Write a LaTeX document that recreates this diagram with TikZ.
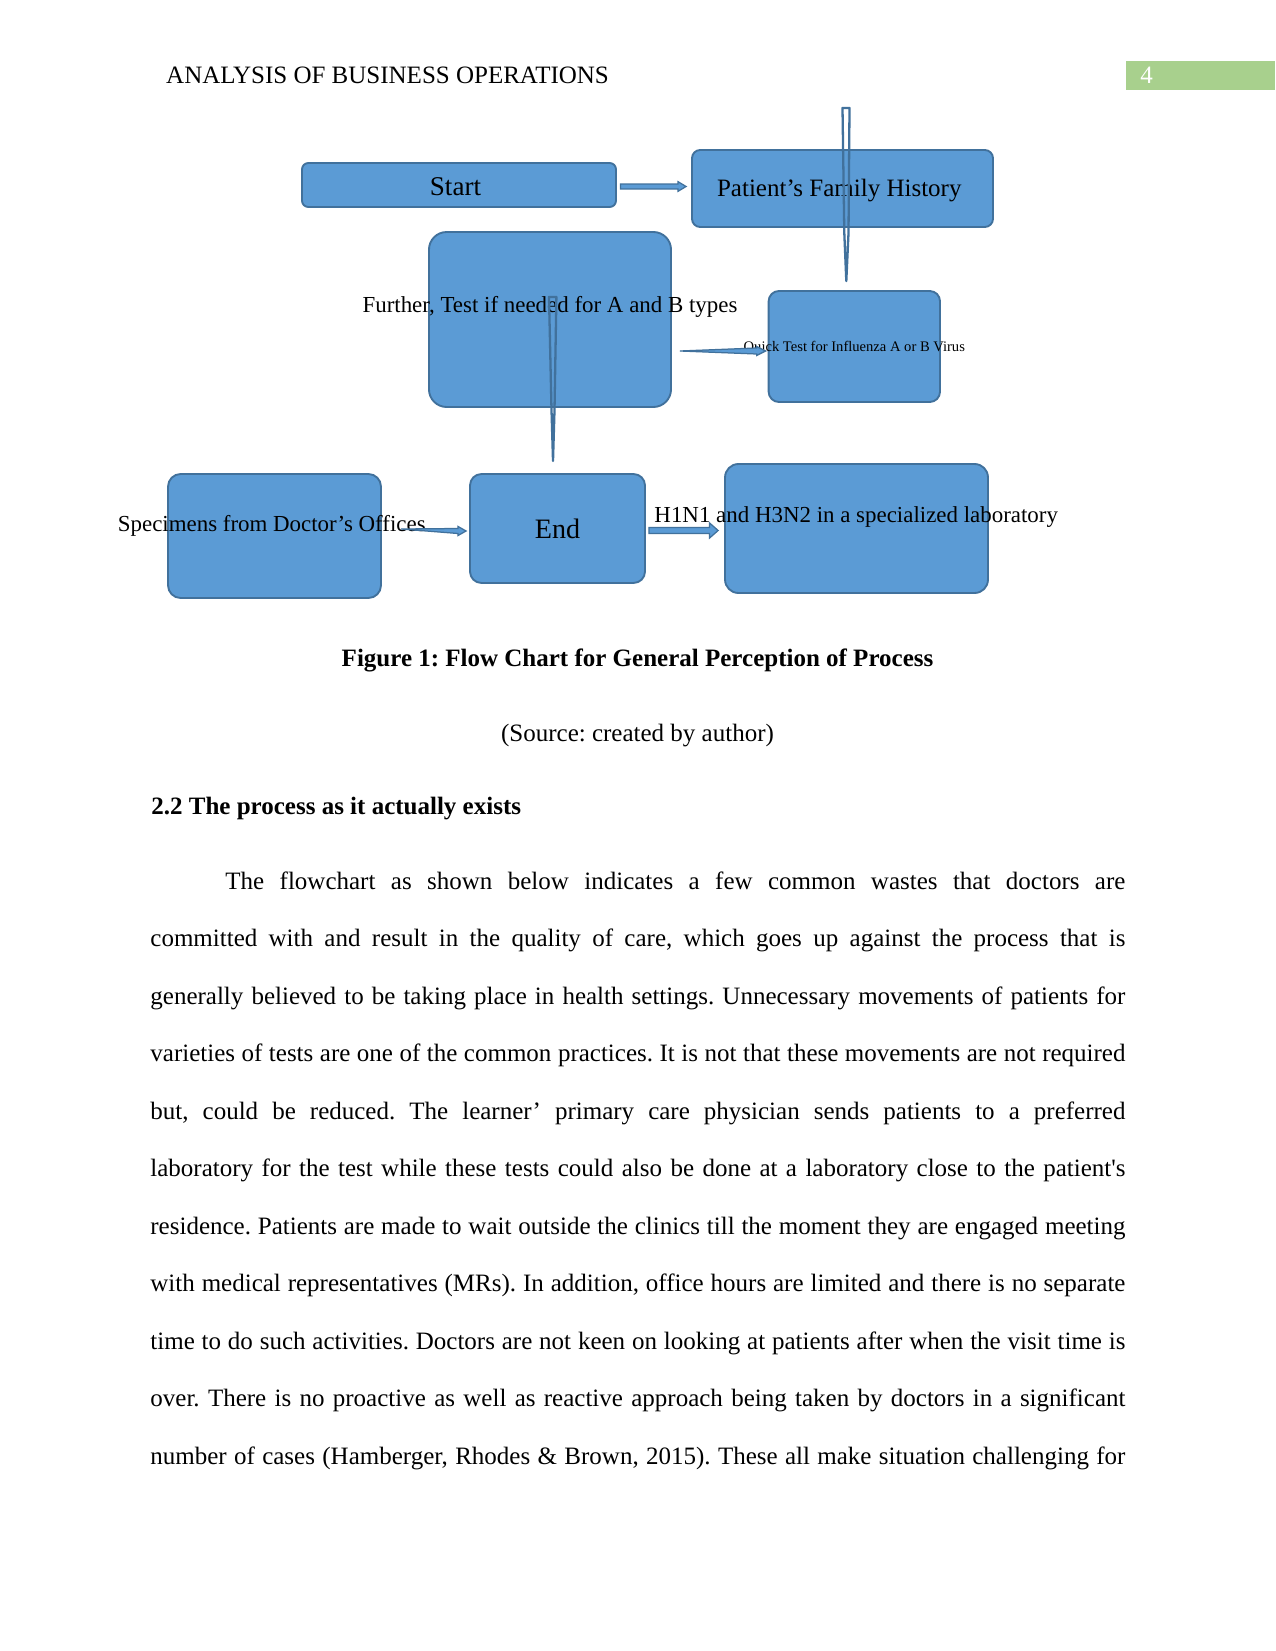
\documentclass[tikz,border=0pt]{standalone}
\usepackage{fontspec}
\setmainfont{Liberation Serif}
\usetikzlibrary{calc}
\definecolor{boxfill}{HTML}{5B9BD5}
\definecolor{boxline}{HTML}{41719C}
\definecolor{hdrgreen}{HTML}{A8D08D}
\newcommand\sq{\XeTeXglyph\the\XeTeXcharglyph"27\relax}
% horizontal block arrow: start, end, shaft half-height, head half-height, head length
\newcommand\harrow[5]{%
  \draw[arr] ($(#1)+(0,-#3)$) -- ($(#2)+(-#5,-#3)$) -- ($(#2)+(-#5,-#4)$) -- (#2)
    -- ($(#2)+(-#5,#4)$) -- ($(#2)+(-#5,#3)$) -- ($(#1)+(0,#3)$) -- cycle;}
% horizontal wedge arrow (pointed tail)
\newcommand\hwedge[5]{%
  \draw[arr] (#1) -- ($(#2)+(-#5,-#3)$) -- ($(#2)+(-#5,-#4)$) -- (#2)
    -- ($(#2)+(-#5,#4)$) -- ($(#2)+(-#5,#3)$) -- cycle;}
\frenchspacing
\begin{document}
\frenchspacing
\begin{tikzpicture}[x=0.48pt,y=-0.48pt,
  flowbox/.style={draw=boxline, fill=boxfill, line width=0.9pt, inner sep=0pt, rounded corners=#1},
  flowbox/.default=4pt,
  lbl/.style={anchor=base, inner sep=0pt},
  bodyline/.style={anchor=base west, inner sep=0pt, font=\fontsize{12}{14}\selectfont\frenchspacing},
  arr/.style={draw=boxline, fill=boxfill, line width=0.6pt, line join=miter},
  thinarr/.style={draw=boxline, fill=none, line width=1.1pt, line join=round}]
\fill[white] (0,0) rectangle (1275,1651);
\useasboundingbox (0,0) rectangle (1275,1651);

% header
\node[anchor=base west, inner sep=0pt, font=\fontsize{12}{14}\selectfont] (header) at (165.8,83.5) {ANALYSIS OF BUSINESS OPERATIONS};
\node[fill=hdrgreen, inner sep=0pt, minimum width=71.7pt, minimum height=13.7pt, anchor=north west] (pagebox) at (1125.6,60.7) {};
\node[anchor=base west, inner sep=0pt, text=white, font=\fontsize{12}{14}\selectfont] (pagenum) at (1140,83.5) {4};

% boxes
\node[flowbox=3pt, minimum width=150.7pt, minimum height=21.1pt] (start) at (459,185) {};
\node[flowbox=4pt, minimum width=144.5pt, minimum height=37pt] (history) at (842.5,188.5) {};
\node[flowbox=8.5pt, minimum width=116.2pt, minimum height=84pt] (further) at (550,319.5) {};
\node[flowbox=5pt, minimum width=82.3pt, minimum height=53.3pt] (quick) at (854.3,346.5) {};
\node[flowbox=6pt, minimum width=102.2pt, minimum height=59.5pt] (specimens) at (274.5,536) {};
\node[flowbox=5.5pt, minimum width=84pt, minimum height=52.3pt, font=\fontsize{13.5}{15}\selectfont] (end) at (557.5,528.5) {End};
\node[flowbox=6.4pt, minimum width=126.2pt, minimum height=61.9pt] (lab) at (856.5,528.5) {};

% labels
\node[lbl, font=\fontsize{13}{15}\selectfont] (startlbl) at (455.5,196) {Start};
\node[lbl, font=\fontsize{12}{14}\selectfont] (historylbl) at (839.3,197) {Patient’s Family History};
\node[lbl, font=\fontsize{11}{13}\selectfont] (furtherlbl) at (550,312.7) {Further, Test if needed for A and B types};
\node[lbl, font=\fontsize{7}{8}\selectfont] (quicklbl) at (854.3,351.7) {Quick Test for Influenza A or B Virus};
\node[lbl, font=\fontsize{11}{13}\selectfont] (specimenslbl) at (271.8,531) {Specimens from Doctor’s Offices};
\node[lbl, font=\fontsize{11}{13}\selectfont] (lablbl) at (856.2,522.7) {H1N1 and H3N2 in a specialized laboratory};

% connectors
\coordinate (a1s) at ($(start.east)+(3.5,1.5)$);
\coordinate (a1e) at ($(history.west)+(-5,-2)$);
\harrow{a1s}{a1e}{2.4}{4.8}{8}

\coordinate (a2s) at (846,108);
\coordinate (a2e) at ($(quick.north)+(-8,-9)$);
\draw[thinarr] ($(a2s)+(-3.5,0)$) -- ($(a2s)+(3.5,0)$) -- ($(a2e)+(2.2,-48)$) -- (a2e) -- ($(a2e)+(-2,-48)$) -- cycle;

\coordinate (a3s) at (552.7,297);
\coordinate (a3e) at (553,461);
\draw[thinarr] ($(a3s)+(-3.7,0)$) -- ($(a3s)+(3.7,0)$) -- ($(a3e)+(1.5,-51)$) -- (a3e) -- ($(a3e)+(-1.5,-51)$) -- cycle;

\coordinate (a4s) at ($(further.east)+(8,31.5)$);
\coordinate (a4e) at ($(quick.west)+(-2,4.5)$);
\hwedge{a4s}{a4e}{3}{4.5}{9}

\coordinate (a5s) at (401,529);
\coordinate (a5e) at ($(end.west)+(-3,2.5)$);
\hwedge{a5s}{a5e}{2.5}{4.5}{8}

\coordinate (a6s) at ($(end.east)+(3,2)$);
\coordinate (a6e) at ($(lab.west)+(-6,2)$);
\harrow{a6s}{a6e}{3}{7.5}{8.5}

% captions
\node[lbl, font=\bfseries\fontsize{12}{14}\selectfont] (caption) at (637.5,666) {Figure 1: Flow Chart for General Perception of Process};
\node[lbl, font=\fontsize{12}{14}\selectfont] (source) at (637.5,741) {(Source: created by author)};
\node[anchor=base west, inner sep=0pt, font=\bfseries\fontsize{12}{14}\selectfont] (heading) at (151,814.3) {2.2 The process as it actually exists};

% body text
\node[bodyline] (l1) at (150,889.3) {\hbox to 468pt{\hspace*{36pt}The flowchart as shown below indicates a few common wastes that doctors are}};
\node[bodyline] (l2) at (150,946.8) {\hbox to 468pt{committed with and result in the quality of care, which goes up against the process that is}};
\node[bodyline] (l3) at (150,1004.3) {\hbox to 468pt{generally believed to be taking place in health settings. Unnecessary movements of patients for}};
\node[bodyline] (l4) at (150,1061.8) {\hbox to 468pt{varieties of tests are one of the common practices. It is not that these movements are not required}};
\node[bodyline] (l5) at (150,1119.3) {\hbox to 468pt{but, could be reduced. The learner’ primary care physician sends patients to a preferred}};
\node[bodyline] (l6) at (150,1176.8) {\hbox to 468pt{laboratory for the test while these tests could also be done at a laboratory close to the patient\sq s}};
\node[bodyline] (l7) at (150,1234.3) {\hbox to 468pt{residence. Patients are made to wait outside the clinics till the moment they are engaged meeting}};
\node[bodyline] (l8) at (150,1291.8) {\hbox to 468pt{with medical representatives (MRs). In addition, office hours are limited and there is no separate}};
\node[bodyline] (l9) at (150,1349.3) {\hbox to 468pt{time to do such activities. Doctors are not keen on looking at patients after when the visit time is}};
\node[bodyline] (l10) at (150,1406.8) {\hbox to 468pt{over. There is no proactive as well as reactive approach being taken by doctors in a significant}};
\node[bodyline] (l11) at (150,1464.3) {\hbox to 468pt{number of cases (Hamberger, Rhodes \& Brown, 2015). These all make situation challenging for}};
\end{tikzpicture}
\end{document}
